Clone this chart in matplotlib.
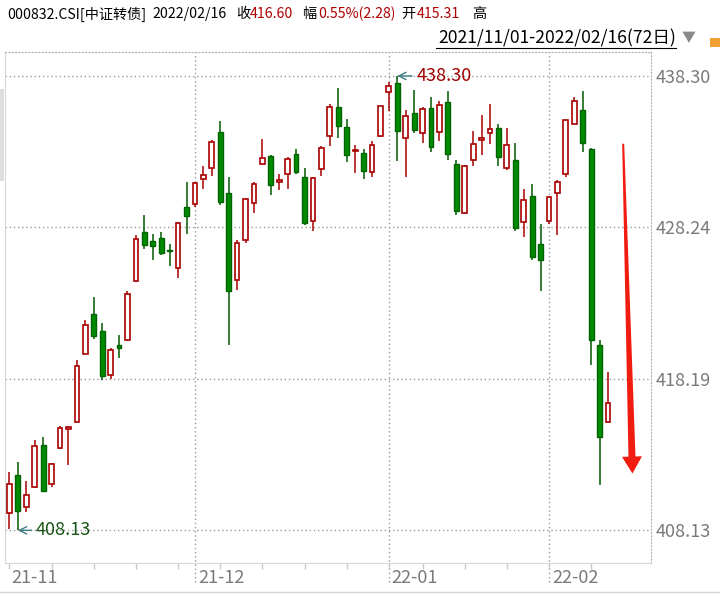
import numpy as np
import matplotlib
matplotlib.use('Agg')
import matplotlib.pyplot as plt
from matplotlib.patches import Polygon, Rectangle
from matplotlib.transforms import IdentityTransform
from matplotlib.lines import Line2D

plt.rcParams['font.family'] = ['Noto Sans CJK SC', 'DejaVu Sans']

# daily candles 2021/11/01 - 2022/02/16 (72 trading days)
opens = [409.29, 411.79, 409.65, 410.98, 413.79, 411.23, 413.59, 414.86, 415.33, 419.87,
         422.47, 421.34, 418.47, 420.43, 420.74, 424.68, 427.95, 427.35, 427.55, 426.75,
         425.53, 429.58, 429.82, 431.48, 432.18, 434.60, 430.55, 424.72, 427.43, 429.87,
         432.45, 433.00, 431.26, 431.78, 433.13, 431.61, 428.68, 432.14, 434.32, 436.23,
         434.91, 433.31, 433.19, 431.94, 434.29, 437.22, 437.82, 434.15, 435.85, 434.54,
         436.18, 434.61, 436.56, 432.44, 429.17, 432.71, 434.04, 434.50, 434.83, 432.22,
         432.73, 428.60, 430.32, 427.16, 428.64, 430.52, 431.76, 435.10, 436.03, 433.46,
         420.45, 415.31]
highs = [411.99, 412.65, 411.43, 414.15, 414.32, 412.59, 415.06, 415.06, 419.47, 422.12,
         423.63, 421.87, 420.23, 421.09, 424.01, 427.77, 429.04, 427.82, 427.95, 427.11,
         428.62, 431.23, 431.25, 432.29, 434.07, 435.33, 431.56, 427.41, 430.18, 431.28,
         434.14, 433.05, 431.76, 432.89, 433.48, 432.20, 431.61, 433.66, 436.41, 437.53,
         435.46, 433.74, 433.48, 434.01, 436.32, 437.93, 438.30, 436.05, 437.37, 436.27,
         436.91, 436.62, 437.31, 432.69, 432.40, 434.66, 435.72, 436.44, 435.12, 434.83,
         433.86, 430.81, 431.14, 428.49, 430.35, 431.41, 435.38, 436.91, 437.31, 433.50,
         420.80, 418.61]
lows = [408.24, 408.13, 409.36, 410.95, 410.69, 411.03, 413.55, 412.48, 415.30, 419.85,
        420.83, 418.11, 418.15, 419.58, 420.70, 424.65, 426.84, 426.06, 426.39, 425.66,
        424.90, 427.83, 429.63, 430.79, 431.65, 429.74, 420.43, 424.06, 427.21, 429.21,
        432.42, 430.40, 430.73, 430.79, 431.79, 428.42, 428.02, 431.65, 433.66, 434.18,
        432.58, 431.85, 431.48, 431.59, 434.23, 435.95, 432.64, 431.61, 434.48, 433.88,
        433.26, 433.95, 432.69, 429.09, 429.15, 432.29, 433.02, 433.75, 432.29, 432.05,
        427.98, 427.61, 426.06, 424.00, 428.49, 427.72, 431.58, 435.08, 433.28, 419.14,
        411.14, 415.25]
closes = [411.18, 409.42, 410.45, 413.72, 410.76, 412.52, 414.93, 414.99, 419.07, 421.74,
          421.00, 418.38, 420.09, 420.25, 423.81, 427.46, 427.06, 427.00, 426.53, 426.70,
          428.51, 429.03, 431.21, 431.70, 433.94, 429.93, 423.99, 427.21, 430.11, 431.15,
          432.87, 431.06, 431.37, 432.80, 431.92, 428.53, 431.54, 433.52, 436.23, 434.98,
          433.06, 433.37, 431.98, 433.72, 436.30, 437.64, 434.63, 435.63, 434.68, 436.09,
          433.61, 436.38, 433.11, 429.31, 432.31, 433.77, 434.17, 434.77, 432.89, 433.70,
          428.20, 430.06, 426.26, 426.08, 430.26, 431.25, 435.36, 436.62, 433.84, 420.78,
          414.32, 416.60]

month_starts = [0, 22, 45, 64]
month_labels = ['21-11', '21-12', '22-01', '22-02']
week_starts = [0, 5, 10, 15, 20, 25, 30, 35, 40, 45, 49, 54, 59, 64, 69]
price_levels = [408.13, 418.19, 428.24, 438.30]

RED = '#a80000'
GREEN_FACE = '#008a00'
GREEN_EDGE = '#006400'
GREY = '#7a7a7a'

W, H = 720, 596
fig = plt.figure(figsize=(W / 100, H / 100), dpi=100)
fig.patch.set_facecolor('white')
ax = fig.add_axes([5 / W, 1 - 563 / H, (651 - 5) / W, (563 - 52) / H])
ax.set_xlim(-0.53, 76.1)
ax.set_ylim(405.96, 439.89)

x = np.arange(len(opens))
o = np.array(opens); c = np.array(closes)
up = c >= o

# wicks
for i in x:
    col = RED if up[i] else '#005800'
    ax.vlines(i, lows[i], highs[i], color=col, lw=1.1, zorder=2)

# bodies
body_w = 0.57
ax.bar(x[up], c[up] - o[up], bottom=o[up], width=body_w, facecolor='white',
       edgecolor=RED, linewidth=1.2, zorder=3)
ax.bar(x[~up], o[~up] - c[~up], bottom=c[~up], width=body_w, facecolor=GREEN_FACE,
       edgecolor=GREEN_EDGE, linewidth=1.0, zorder=3)

# grid
for lv in price_levels:
    ax.axhline(lv, color='#9a9a9a', lw=1, ls=(0, (1, 2)), zorder=1)
for m in month_starts[1:]:
    ax.axvline(m, ymin=-19 / 511, ymax=1, color='#9a9a9a', lw=1, ls=(0, (1, 2)),
               zorder=1, clip_on=False)

# axes frame
for side in ['top', 'right']:
    ax.spines[side].set_color('#b0b0b0')
    ax.spines[side].set_linestyle((0, (1, 2)))
for side in ['left', 'bottom']:
    ax.spines[side].set_color('#d8d8d8')

ax.yaxis.tick_right()
ax.set_yticks(price_levels)
ax.set_yticklabels([f'{v:.2f}' for v in price_levels], color=GREY, fontsize=13)
ax.tick_params(axis='y', length=0, pad=3)
ax.set_xticks(week_starts)
ax.set_xticklabels([])
ax.tick_params(axis='x', length=4, color='#c8c8c8', width=1)

for m, lab in zip(month_starts, month_labels):
    off = 2 if m == 0 else 3
    ax.annotate(lab, xy=(m, 0), xycoords=('data', 'axes fraction'),
                xytext=(off, -15), textcoords='offset pixels',
                ha='left', va='center', color=GREY, fontsize=13)

# high / low markers
hi = int(np.argmax(highs)); lo = int(np.argmin(lows))
ax.annotate(f'{highs[hi]:.2f}', xy=(hi, highs[hi]), xytext=(19, 0),
            textcoords='offset pixels', ha='left', va='center', color='#a00000',
            fontsize=13, arrowprops=dict(arrowstyle='->', color='#3c7c80', lw=1,
                                         shrinkA=1, shrinkB=0), zorder=5)
ax.annotate(f'{lows[lo]:.2f}', xy=(lo, lows[lo]), xytext=(18, 0),
            textcoords='offset pixels', ha='left', va='center', color='#1a5518',
            fontsize=13, arrowprops=dict(arrowstyle='->', color='#3c7c80', lw=1,
                                         shrinkA=1, shrinkB=0), zorder=5)

# big red down arrow
fig.canvas.draw()
p0 = ax.transData.transform((72.8, 433.8))
p1 = ax.transData.transform((73.9, 411.9))
d = (p1 - p0) / np.linalg.norm(p1 - p0)
n = np.array([-d[1], d[0]])
hb = p1 - d * 17
pts = [p0 + n * 1.0, hb + n * 3.5, hb + n * 10, p1, hb - n * 10, hb - n * 3.5, p0 - n * 1.0]
ax.add_patch(Polygon(pts, closed=True, facecolor='#f01c10', edgecolor='none',
                     transform=IdentityTransform(), clip_on=False, zorder=6))

# header
def ft(px, py, s, color='black', size=10.2, ha='left'):
    fig.text(px / W, 1 - py / H, s, color=color, fontsize=size, ha=ha, va='center')

HRED = '#b00000'
ft(7, 14, '000832.CSI[中证转债]')
ft(152, 14, '2022/02/16')
ft(236, 14, '收')
ft(250, 14, '416.60', HRED)
ft(302, 14, '幅')
ft(318, 14, '0.55%(2.28)', HRED)
ft(401, 14, '开')
ft(417, 14, '415.31', HRED)
ft(472, 14, '高')
ft(676, 38, '2021/11/01-2022/02/16(72日)', size=12.6, ha='right')
fig.add_artist(Line2D([436 / W, 676 / W], [1 - 48 / H, 1 - 48 / H], color='black', lw=0.8))
ft(682, 38, '▼', color='#8a8a8a', size=10)
fig.add_artist(Rectangle((710 / W, 1 - 47 / H), 10 / W, 9 / H, facecolor='#f0a030',
                         edgecolor='none'))

# side panel and bottom border
fig.add_artist(Rectangle((0, 1 - 181 / H), 4 / W, 92 / H, facecolor='#dedede', edgecolor='none'))
fig.add_artist(Line2D([0, 1], [1 - 592 / H, 1 - 592 / H], color='#d4d4d4', lw=1))

fig.savefig('out.png', dpi=100)
